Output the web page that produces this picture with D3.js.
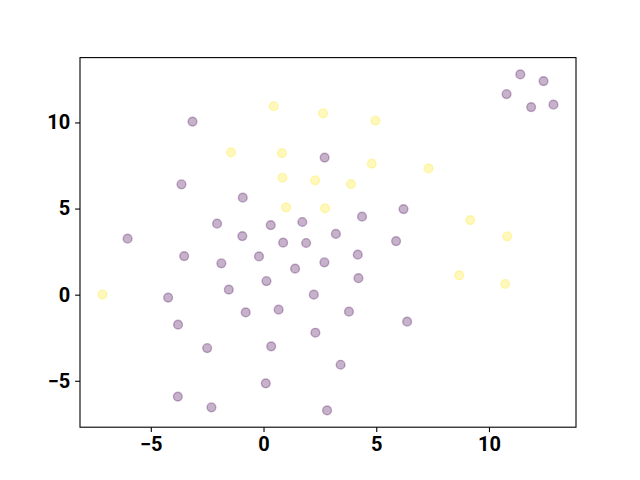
<!DOCTYPE html>
<html>
<head>
<meta charset="utf-8">
<script src="https://cdn.jsdelivr.net/npm/d3@7"></script>
<style>
body{margin:0;background:#fff;}
.tick text{font-family:Roboto,"DejaVu Sans",sans-serif;font-weight:bold;font-size:20px;fill:#000;}
</style>
</head>
<body>
<svg width="640" height="480"></svg>
<script>
// yellow group (class 1)
var yellowX=[0.45,2.64,4.96,-1.44,0.82,4.80,7.32,0.84,2.29,3.88,1.00,2.73,9.17,10.81,8.68,10.72,-7.14];
var yellowY=[10.94,10.53,10.11,8.26,8.22,7.61,7.33,6.79,6.64,6.42,5.07,5.01,4.33,3.39,1.12,0.62,0.0];

// purple group (class 0)
var purpleX=[11.39,12.42,10.78,11.87,12.86,-3.15,2.71,-3.64,-0.92,6.21,4.37,-2.06,0.32,1.72,-6.03,-0.94,0.87,1.89,3.21,5.88,
    -3.52,-0.20,4.18,-1.87,1.40,2.70,4.21,0.13,-1.54,-4.23,2.23,-0.79,0.67,3.79,6.37,-3.79,2.30,-2.50,0.34,3.42,0.10,-3.80,-2.31,2.82];
var purpleY=[12.79,12.40,11.65,10.89,11.03,10.05,7.96,6.41,5.63,4.97,4.53,4.12,4.04,4.22,3.25,3.40,3.02,3.00,3.53,3.11,
    2.24,2.22,2.32,1.82,1.51,1.88,0.96,0.79,0.29,-0.17,0.0,-1.03,-0.87,-0.99,-1.57,-1.74,-2.21,-3.10,-3.00,-4.07,-5.15,-5.92,-6.54,-6.72];

var xTicks=[-5,0,5,10];
var yTicks=[-5,0,5,10];

var margin={left:80,top:57.6,right:64,bottom:52.8};
var width=640-margin.left-margin.right;
var height=480-margin.top-margin.bottom;

var points=[];
purpleX.forEach(function(d,i){points.push({x:d,y:purpleY[i],c:"#440154"});});
yellowX.forEach(function(d,i){points.push({x:d,y:yellowY[i],c:"#fde725"});});

//matplotlib style 5% margins
function padded(vals){
    var e=d3.extent(vals),p=(e[1]-e[0])*0.05;
    return [e[0]-p,e[1]+p];
}

var x=d3.scaleLinear().domain(padded(points.map(function(d){return d.x;}))).range([0,width]);
var y=d3.scaleLinear().domain(padded(points.map(function(d){return d.y;}))).range([height,0]);

var svg=d3.select("svg");
var g=svg.append("g").attr("transform","translate("+margin.left+","+margin.top+")");

// fill and edge each semi transparent, so the ring comes out darker
g.append("g").selectAll("circle")
    .data(points)
    .enter()
    .append("circle")
    .attr("cx",function(d){return x(d.x);})
    .attr("cy",function(d){return y(d.y);})
    .attr("r",4.4)
    .style("fill",function(d){return d.c;})
    .style("fill-opacity",0.3)
    .style("stroke",function(d){return d.c;})
    .style("stroke-opacity",0.3)
    .style("stroke-width",1.4);

var fmt=function(d){return d<0?"\u2212"+Math.abs(d):d;};

var xAxis=g.append("g").attr("transform","translate(0,"+height+")")
    .call(d3.axisBottom(x).tickValues(xTicks).tickFormat(fmt).tickSizeOuter(0).tickSize(4.9).tickPadding(4.9));
var yAxis=g.append("g")
    .call(d3.axisLeft(y).tickValues(yTicks).tickFormat(fmt).tickSizeOuter(0).tickSize(4.9).tickPadding(4.9));
xAxis.select(".domain").remove();
yAxis.select(".domain").remove();
svg.selectAll(".tick line").attr("stroke","#000").attr("stroke-width",1.1);

g.append("rect")
    .attr("width",width)
    .attr("height",height)
    .attr("fill","none")
    .attr("stroke","black")
    .attr("stroke-width",1.1);
</script>
</body>
</html>
